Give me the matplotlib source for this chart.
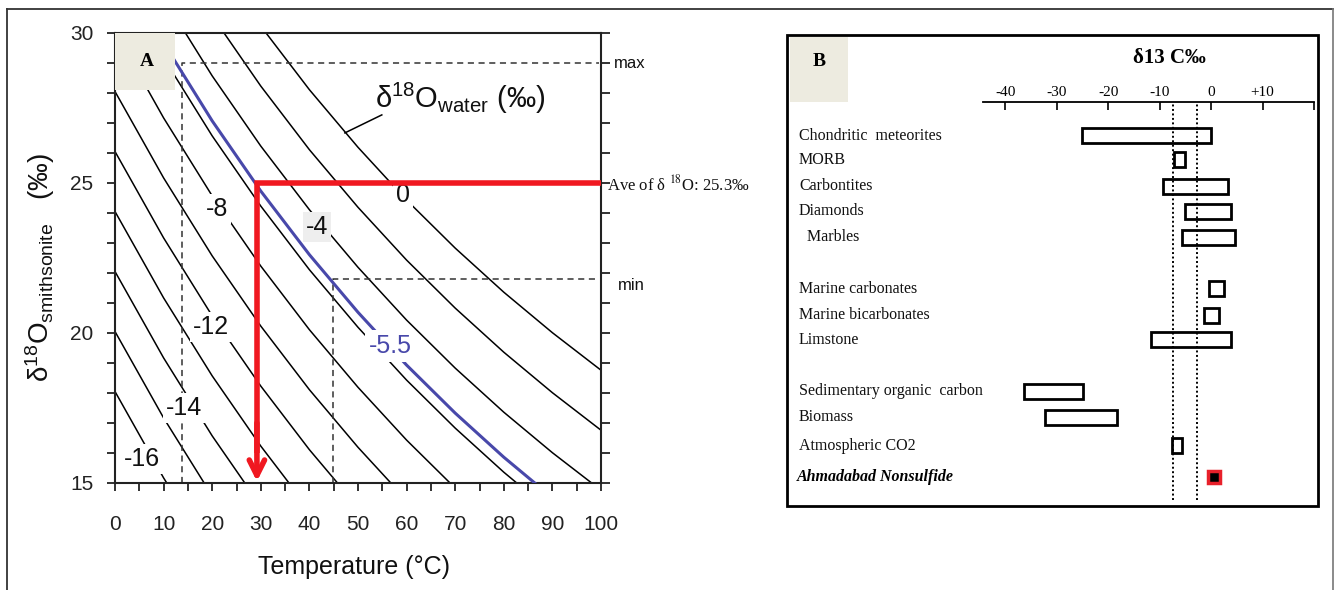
import numpy as np
import matplotlib
matplotlib.use("Agg")
import matplotlib.pyplot as plt
from matplotlib.patches import Rectangle
from matplotlib.lines import Line2D
import matplotlib.transforms as mtransforms

plt.rcParams['font.family'] = ['Liberation Sans', 'DejaVu Sans']
plt.rcParams['mathtext.fontset'] = 'custom'
plt.rcParams['mathtext.rm'] = 'Liberation Sans'
plt.rcParams['mathtext.it'] = 'Liberation Sans:italic'
plt.rcParams['mathtext.bf'] = 'Liberation Sans:bold'

# ---------------- Panel A data ----------------
temperature = [0, 10, 20, 30, 40, 50, 60, 70, 80, 90, 100]
iso_w0   = [38.05, 35.17, 32.57, 30.23, 28.11, 26.19, 24.43, 22.83, 21.36, 20.01, 18.76]
iso_w2   = [36.05, 33.17, 30.57, 28.23, 26.11, 24.19, 22.43, 20.83, 19.36, 18.01, 16.76]
iso_w4   = [34.05, 31.17, 28.57, 26.23, 24.11, 22.19, 20.43, 18.83, 17.36, 16.01, 14.76]
iso_w6   = [32.05, 29.17, 26.57, 24.23, 22.11, 20.19, 18.43, 16.83, 15.36, 14.01, 12.76]
iso_w8   = [30.05, 27.17, 24.57, 22.23, 20.11, 18.19, 16.43, 14.83, 13.36, 12.01, 10.76]
iso_w10  = [28.05, 25.17, 22.57, 20.23, 18.11, 16.19, 14.43, 12.83, 11.36, 10.01, 8.76]
iso_w12  = [26.05, 23.17, 20.57, 18.23, 16.11, 14.19, 12.43, 10.83, 9.36, 8.01, 6.76]
iso_w14  = [24.05, 21.17, 18.57, 16.23, 14.11, 12.19, 10.43, 8.83, 7.36, 6.01, 4.76]
iso_w16  = [22.05, 19.17, 16.57, 14.23, 12.11, 10.19, 8.43, 6.83, 5.36, 4.01, 2.76]
iso_w18  = [20.05, 17.17, 14.57, 12.23, 10.11, 8.19, 6.43, 4.83, 3.36, 2.01, 0.76]
iso_w20  = [18.05, 15.17, 12.57, 10.23, 8.11, 6.19, 4.43, 2.83, 1.36, 0.01, -1.24]
iso_blue = [32.55, 29.67, 27.07, 24.73, 22.61, 20.69, 18.93, 17.33, 15.86, 14.51, 13.26]
black_isolines = [iso_w0, iso_w2, iso_w4, iso_w6, iso_w8, iso_w10,
                  iso_w12, iso_w14, iso_w16, iso_w18, iso_w20]

contour_labels = ['0', '-4', '-8', '-12', '-14', '-16']
contour_label_T = [59.3, 41.6, 20.9, 19.8, 14.2, 5.6]
contour_label_d = [24.6, 23.55, 24.15, 20.2, 17.5, 15.8]
blue_label = '-5.5'
blue_label_T, blue_label_d = 56.6, 19.57

t_min, t_max = 13.8, 44.8          # dashed verticals
d18o_max, d18o_min = 29.0, 21.8    # dashed horizontals
t_ave, d18o_ave_line = 29.2, 25.0  # red guide

# ---------------- Panel B data ----------------
categories = ['Chondritic  meteorites', 'MORB', 'Carbontites', 'Diamonds', '  Marbles',
              'Marine carbonates', 'Marine bicarbonates', 'Limstone',
              'Sedimentary organic  carbon', 'Biomass', 'Atmospheric CO2']
c13_low  = [-25.0, -7.1, -9.4, -5.0, -5.7, -0.4, -1.3, -11.6, -36.4, -32.3, -7.6]
c13_high = [0.0, -5.0, 3.3, 3.9, 4.6, 2.5, 1.5, 3.9, -24.9, -18.3, -5.6]
sample_label = 'Ahmadabad Nonsulfide'
sample_value = 0.5
ref_lines = [-7.45, -2.7]
c13_ticks = [-40, -30, -20, -10, 0, 10, 20]
c13_ticklabels = ['-40', '-30', '-20', '-10', '0', '+10', '']

# layout (row positions)
row_pos = [0, 0.93, 1.98, 2.96, 3.98, 6.0, 7.04, 8.0, 10.02, 11.04, 12.15]
sample_row = 13.38

# ---------------- figure ----------------
W, H = 1338, 590
fig = plt.figure(figsize=(W / 100, H / 100), dpi=100)
def fx(p): return p / W
def fy(p): return 1 - p / H

RED = '#f01820'
BLUE = '#4848aa'

axA = fig.add_axes([fx(115), fy(483), (601 - 115) / W, (483 - 33) / H])
axA.set_xlim(0, 100)
axA.set_ylim(15, 30)
for c in black_isolines:
    axA.plot(temperature, c, color='black', lw=1.1, zorder=2)
axA.plot(temperature, iso_blue, color=BLUE, lw=2.2, zorder=3)

axA.set_xticks(range(0, 101, 10))
axA.set_xticks(range(5, 100, 10), minor=True)
axA.set_yticks([15, 20, 25, 30])
axA.set_yticks(range(15, 31), minor=True)
axA.tick_params(axis='x', which='both', direction='out', length=6, width=1.3,
                labelsize=15, pad=17, colors='#222222')
axA.tick_params(axis='y', which='both', direction='out', length=5.5, width=1.3,
                labelsize=15, pad=10, colors='#222222')
for s in axA.spines.values():
    s.set_linewidth(1.5)
    s.set_color('#222222')

axR = axA.twinx()
axR.set_ylim(15, 30)
axR.set_yticks(range(15, 31))
axR.tick_params(axis='y', direction='out', length=6.5, width=1.3, labelright=False,
                colors='#222222')
for s in axR.spines.values():
    s.set_visible(False)

# dashed guides
dash = (0, (4, 3))
axA.plot([t_min, t_min, 99.5], [15, d18o_max, d18o_max], ls=dash, color='#333333', lw=1.1, zorder=2.5)
axA.plot([t_max, t_max, 99.5], [15, d18o_min, d18o_min], ls=dash, color='#333333', lw=1.1, zorder=2.5)

# contour labels with gaps
for s, t, d in zip(contour_labels, contour_label_T, contour_label_d):
    fc = '#eeeeee' if s == '-4' else 'white'
    axA.text(t, d, s, fontsize=18, ha='center', va='center', color='#111111', zorder=4,
             bbox=dict(boxstyle='square,pad=0.12', fc=fc, ec='none'))
axA.text(blue_label_T, blue_label_d, blue_label, fontsize=18, ha='center', va='center',
         color=BLUE, zorder=4, bbox=dict(boxstyle='square,pad=0.15', fc='white', ec='none'))

# red guide
axA.plot([100, t_ave, t_ave], [d18o_ave_line, d18o_ave_line, 16.0], color=RED, lw=4,
         solid_joinstyle='miter', solid_capstyle='butt', zorder=6, clip_on=False)
axA.annotate('', xy=(t_ave, 15.05), xytext=(t_ave, 17.0),
             arrowprops=dict(arrowstyle='->,head_length=1.1,head_width=0.55', color=RED,
                             lw=4, shrinkA=0, shrinkB=0), zorder=6)

# leader line and water label
axA.plot([47.3, 54.9], [26.67, 27.27], color='black', lw=1.1, zorder=3)
fig.text(fx(375), fy(98), 'δ$^{18}$O$_{\\mathrm{water}}$ (‰)', fontsize=21,
         ha='left', va='center', color='#111111')

# A box
axA.add_patch(Rectangle((0, (483 - 90) / 450), 60 / 486, 57 / 450, transform=axA.transAxes,
                        fc='#edebe0', ec='none', zorder=5, clip_on=False))
axA.text(32 / 486, 1 - 28 / 450, 'A', transform=axA.transAxes, fontsize=14, fontweight='bold',
         family='Liberation Serif', ha='center', va='center', zorder=6)

# right side labels
fig.text(fx(614), fy(64), 'max', fontsize=12, ha='left', va='center', color='#111111')
fig.text(fx(618), fy(286), 'min', fontsize=12, ha='left', va='center', color='#111111')
fig.text(fx(607), fy(184), 'Ave of δ $^{18}$O: 25.3‰', fontsize=12, family='Liberation Serif',
         math_fontfamily='stix', ha='left', va='center', color='#111111')

# axis labels
fig.text(fx(354), fy(567), 'Temperature (°C)', fontsize=18, ha='center', va='center',
         color='#111111')
fig.text(fx(40), fy(268), 'δ$^{18}$O$_{\\mathrm{smithsonite}}$   (‰)', fontsize=20,
         rotation=90, ha='center', va='center', color='#111111')

# ---------------- Panel B ----------------
fig.patches.append(Rectangle((fx(787), fy(506)), (1318 - 787) / W, (506 - 35) / H,
                             transform=fig.transFigure, fill=False, ec='black', lw=2))
fig.patches.append(Rectangle((fx(790), fy(102)), (848 - 790) / W, (102 - 37) / H,
                             transform=fig.transFigure, fc='#edebe0', ec='none'))
fig.text(fx(819), fy(62), 'B', fontsize=14, fontweight='bold', family='Liberation Serif',
         ha='center', va='center')
fig.text(fx(1169), fy(58), 'δ13 C‰', fontsize=15, fontweight='bold', family='Liberation Serif',
         ha='center', va='center')

axB = fig.add_axes([fx(983), fy(500), (1314 - 983) / W, (500 - 101.7) / H])
axB.set_xlim(-44.3, 20)
axB.set_ylim(14.28, -1.337)
axB.patch.set_alpha(0)
for k in ['left', 'right', 'bottom']:
    axB.spines[k].set_visible(False)
axB.spines['top'].set_linewidth(1.3)
axB.xaxis.tick_top()
axB.set_xticks(c13_ticks)
axB.set_xticklabels(c13_ticklabels, family='Liberation Serif', fontsize=11)
axB.tick_params(axis='x', direction='in', length=6, width=1.2, pad=2)
axB.set_yticks([])

for x in ref_lines:
    axB.axvline(x, color='black', ls=(0, (1, 1.3)), lw=1.4, zorder=2)

axB.barh(row_pos, np.array(c13_high) - np.array(c13_low), left=c13_low, height=0.6,
         facecolor='none', edgecolor='black', lw=2, zorder=3)
axB.plot([sample_value], [sample_row], marker='s', ms=8, mfc='black', mec='#e8202a', mew=2.5,
         ls='none', zorder=4)

trB = mtransforms.blended_transform_factory(fig.transFigure, axB.transData)
for lab, r in zip(categories, row_pos):
    axB.text(fx(799), r, lab, transform=trB, family='Liberation Serif', fontsize=11.5,
             ha='left', va='center', color='#111111')
axB.text(fx(797), sample_row, sample_label, transform=trB, family='Liberation Serif',
         fontsize=11.5, fontweight='bold', style='italic', ha='left', va='center')

# outer frame
fig.add_artist(Line2D([fx(7), fx(7)], [fy(9), 0], color='#333333', lw=1.3))
fig.add_artist(Line2D([fx(7), fx(1333)], [fy(9), fy(9)], color='#333333', lw=1.3))
fig.add_artist(Line2D([fx(1333), fx(1333)], [fy(9), 0], color='#777777', lw=1.2))

fig.savefig('out.png', dpi=100)
